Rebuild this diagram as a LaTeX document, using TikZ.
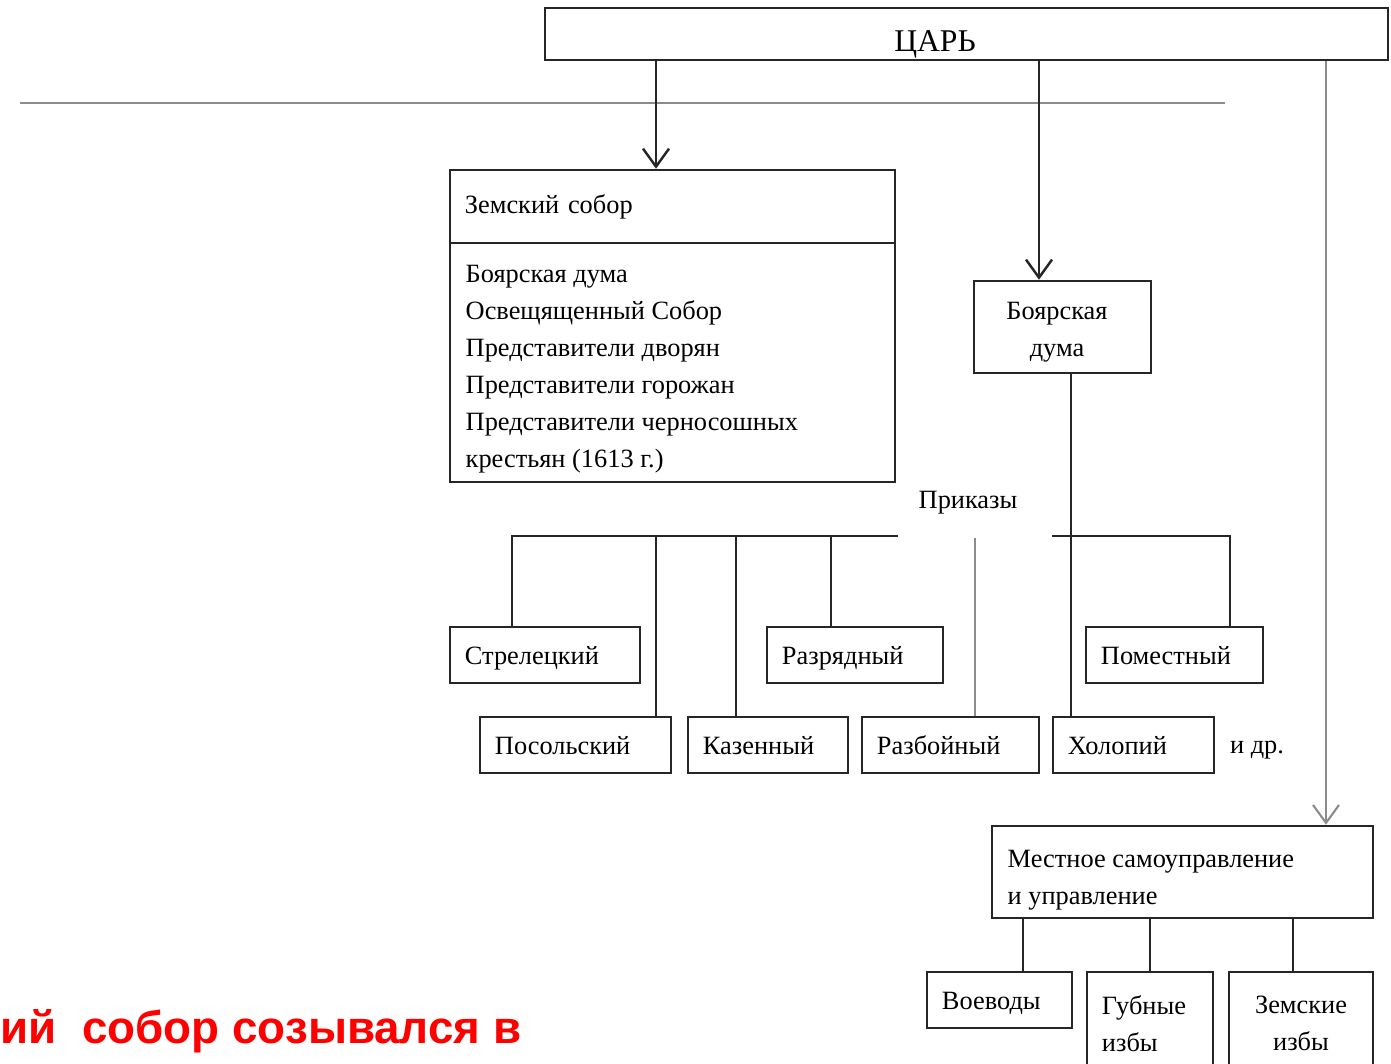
\documentclass[tikz,border=0pt]{standalone}
\usepackage{fontspec}
\setmainfont{Liberation Serif}
\newfontfamily\notefont{Liberation Sans}
\usetikzlibrary{arrows.meta}
\tikzset{
  box/.style={draw=black!85, line width=0.7pt, inner sep=0pt, font=\fontsize{7.5}{10.5}\selectfont},
  prk/.style={box, minimum height=0.56cm, text width=#1, align=left, inner xsep=0.15cm, text height=0.18cm, text depth=0pt},
  txt/.style={inner sep=0pt, font=\fontsize{7.5}{10.5}\selectfont},
  link/.style={line width=0.7pt, color=black!85},
  pale/.style={line width=0.6pt, color=black!45},
  arr/.style={-{Straight Barb[length=1.8mm,width=2.6mm]}},
}

\begin{document}
\begin{tikzpicture}[x=0.01cm, y=-0.01cm]
			%%%%% START %%%%%
			\useasboundingbox (0,0) rectangle (1391,1064);
			
			\draw[pale] (20,103) -- (1225,103);
			
			\node[box, minimum width=8.43cm, minimum height=0.52cm] (tsar) at (966.5,34) {};
			\node[anchor=base, inner sep=0pt, font=\fontsize{9}{11}\selectfont] (tsar_t) at (935,52) {ЦАРЬ};
			
			\node[box, minimum width=4.45cm, minimum height=0.73cm, text width=4.15cm, inner xsep=0.15cm, align=left] (zs_head) at (672.5,206.5) {Земский собор};
			\node[box, minimum width=4.45cm, minimum height=2.39cm] (zs_body) at (672.5,362.5) {};
			\node[txt, anchor=north west, align=left] (zs_list) at (465,264.5) {Боярская дума\\Освещященный Собор\\Представители дворян\\Представители горожан\\Представители черносошных\\крестьян (1613 г.)};
			
			\node[box, minimum width=1.77cm, minimum height=0.92cm] (duma) at (1062.5,327) {};
			\node[txt, anchor=north, align=center] (duma_t) at (1057,302) {Боярская\\дума};
			
			\node[txt] (prikazy) at (968,503) {Приказы};
			
			\node[prk=1.6cm] (strel) at (545,655) {Стрелецкий};
			\node[prk=1.46cm] (razr) at (855,655) {Разрядный};
			\node[prk=1.47cm] (pomest) at (1174.5,655) {Поместный};
			
			\node[prk=1.61cm] (posol) at (575.5,745) {Посольский};
			\node[prk=1.3cm] (kazen) at (768,745) {Казенный};
			\node[prk=1.47cm] (razb) at (950.5,745) {Разбойный};
			\node[prk=1.31cm] (holop) at (1133.5,745) {Холопий};
			\node[txt] (etc) at (1257,750) {и др.};
			
			\node[box, minimum width=3.81cm, minimum height=0.92cm] (mestn) at (1182.5,872) {};
			\node[txt, anchor=north west, align=left] (mestn_t) at (1007,850) {Местное самоуправление\\и управление};
			
			\node[prk=1.15cm] (voev) at (999.5,1000) {Воеводы};
			\node[box, minimum height=1.03cm, text width=0.96cm, inner xsep=0.15cm, align=left] (gub) at (1150,1023.5) {Губные\\избы};
			\node[box, minimum height=1.03cm, text width=1.14cm, inner xsep=0.15cm, align=center] (zemizb) at (1301,1023.5) {Земские\\избы};
			
			% x of the vertical connectors
			\coordinate (c_zs) at (656,0);
			\coordinate (c_bd) at (1039,0);
			\coordinate (c_ms) at (1326,0);
			\coordinate (c_hl) at (1071,0);
			\coordinate (c_st) at (512,0);
			\coordinate (c_kz) at (736,0);
			\coordinate (c_rz) at (831,0);
			\coordinate (c_rb) at (975,538);
			\coordinate (c_pm) at (1230,0);
			\coordinate (c_vv) at (1023,0);
			\coordinate (c_zi) at (1293,0);
			\coordinate (barL) at (898,536);
			\coordinate (barR) at (1052,536);
			
			\draw[link, arr] (tsar.south -| c_zs) -- (zs_head.north -| c_zs);
			\draw[link, arr] (tsar.south -| c_bd) -- (duma.north -| c_bd);
			\draw[pale, arr] (tsar.south -| c_ms) -- (mestn.north -| c_ms);
			
			\draw[link] (duma.south -| c_hl) -- (holop.north -| c_hl);
			\draw[link] (barL) -| (strel.north -| c_st);
			\draw[link] (barL -| c_zs) -- (posol.north -| c_zs);
			\draw[link] (barL -| c_kz) -- (kazen.north -| c_kz);
			\draw[link, line width=0.5pt] (barL -| c_rz) -- (razr.north -| c_rz);
			\draw[pale] (c_rb) -- (razb.north -| c_rb);
			\draw[link] (barR) -| (pomest.north -| c_pm);
			
			\draw[link] (mestn.south -| c_vv) -- (voev.north -| c_vv);
			\draw[link] (mestn.south -| gub.north) -- (gub.north);
			\draw[link] (mestn.south -| c_zi) -- (zemizb.north -| c_zi);
			
			\node[anchor=base west, inner sep=0pt, text=red, font=\notefont\bfseries\fontsize{13}{16}\selectfont] (note) at (0,1043) {ий\ \ собор созывался в};
			%%%%% END %%%%%
\end{tikzpicture}
\end{document}
